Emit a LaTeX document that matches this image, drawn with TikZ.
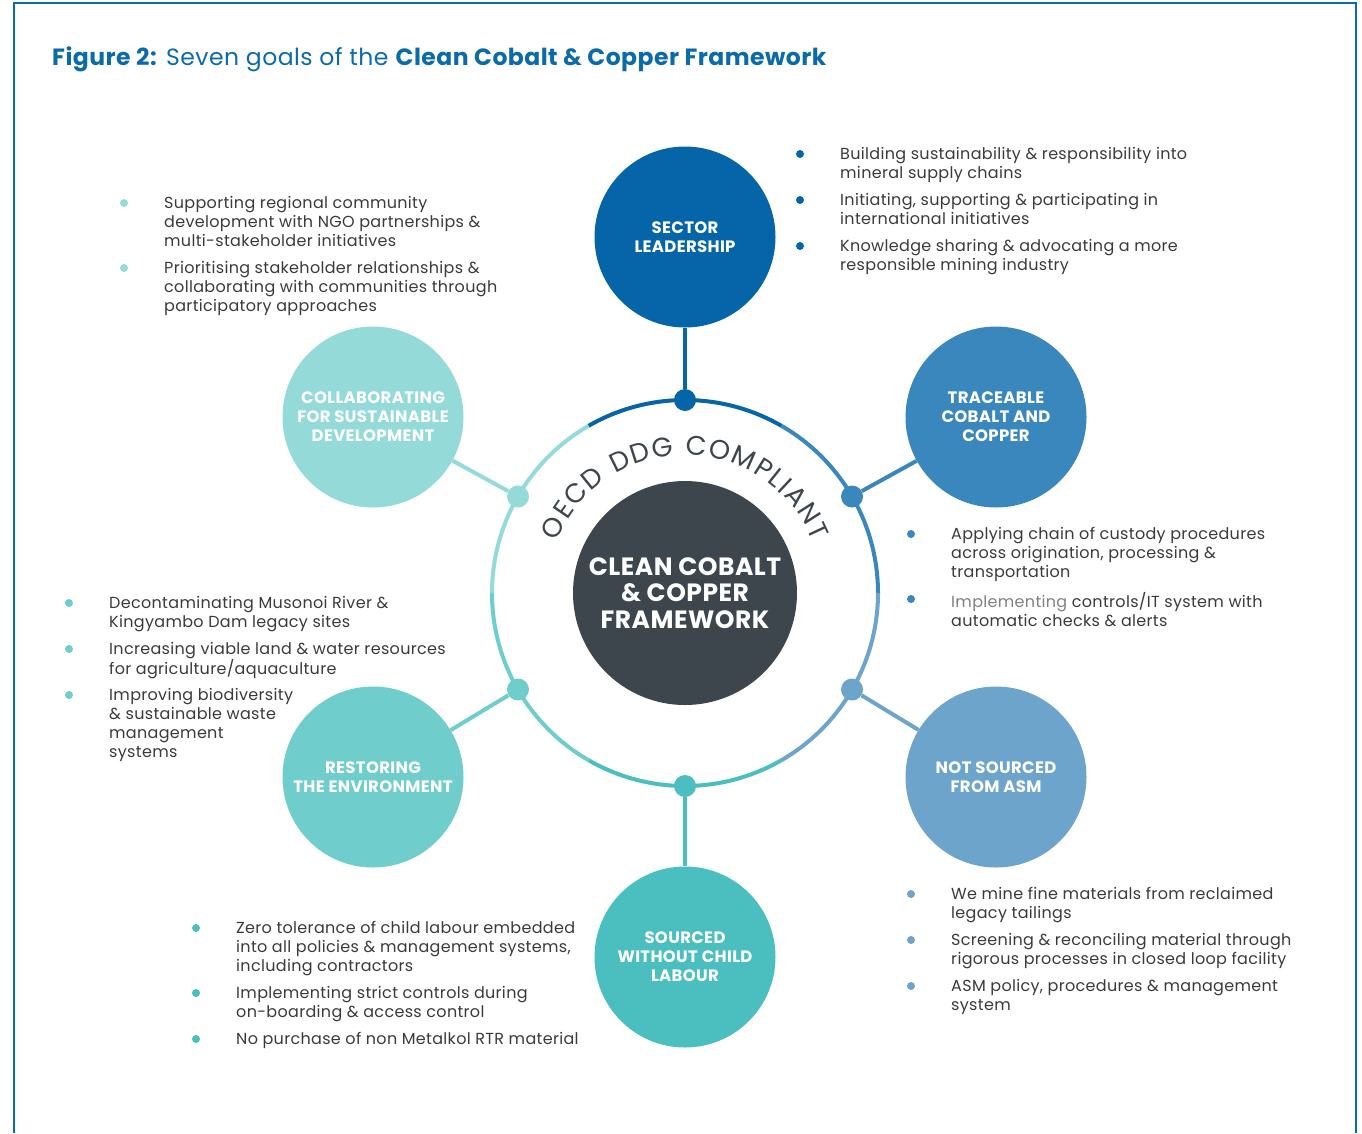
\documentclass[tikz,border=0pt]{standalone}
\usepackage{fontspec}
\setmainfont{Poppins}[LetterSpace=2]
\usetikzlibrary{decorations.text}
\definecolor{cSector}{HTML}{0565A8}
\definecolor{cTrace}{HTML}{3A87BD}
\definecolor{cAsm}{HTML}{6CA4CB}
\definecolor{cChild}{HTML}{4BBFBF}
\definecolor{cEnv}{HTML}{6FCDCB}
\definecolor{cCollab}{HTML}{93DAD8}
\definecolor{cCore}{HTML}{3D454D}
\definecolor{cTitle}{HTML}{0B6AA8}
\definecolor{cBody}{HTML}{3A3A3A}
\tikzstyle{goal} = [circle, minimum size=181pt, inner sep=0pt, text=white, font=\bfseries\fontsize{16.5}{19}\selectfont, align=center]
\tikzstyle{core} = [circle, minimum size=224pt, inner sep=0pt, fill=cCore, text=white, font=\bfseries\fontsize{25}{26.5}\selectfont, align=center]
\tikzstyle{joint} = [circle, minimum size=22pt, inner sep=0pt]
\tikzstyle{spoke} = [line width=4pt]
\tikzstyle{ring} = [line width=4pt]
\tikzstyle{bullet} = [circle, minimum size=8pt, inner sep=0pt]
\tikzstyle{item} = [anchor=north west, inner sep=0pt, align=left, text=cBody, font=\fontsize{16}{19}\selectfont]

\begin{document}
\begin{tikzpicture}[x=1pt, y=-1pt]
\useasboundingbox (0,0) rectangle (1362,1133);

% frame and title
\draw[cTitle, line width=2.5pt] (14,1133) -- (14,3) -- (1356,3) -- (1356,1133);
\node (title) [anchor=base west, inner sep=0pt, text=cTitle, font=\fontsize{23.5}{28}\selectfont] at (52,65)
  {\textbf{Figure 2:} Seven goals of the \textbf{Clean Cobalt \& Copper Framework}};

% ring
\coordinate (hub) at (685,593);
\draw[ring, cSector] (hub) ++(-120:193) arc (-120:-60:193);
\draw[ring, cTrace] (hub) ++(-60:193) arc (-60:0:193);
\draw[ring, cAsm] (hub) ++(0:193) arc (0:60:193);
\draw[ring, cChild] (hub) ++(60:193) arc (60:120:193);
\draw[ring, cEnv] (hub) ++(120:193) arc (120:180:193);
\draw[ring, cCollab] (hub) ++(180:193) arc (180:240:193);

% joints on the ring
\node (jSector) [joint, fill=cSector] at (685,400) {};
\node (jTrace) [joint, fill=cTrace] at (852,496.5) {};
\node (jAsm) [joint, fill=cAsm] at (852,689.5) {};
\node (jChild) [joint, fill=cChild] at (685,786) {};
\node (jEnv) [joint, fill=cEnv] at (518,689.5) {};
\node (jCollab) [joint, fill=cCollab] at (518,496.5) {};

% goals
\node (sector) [goal, fill=cSector] at (685,237) {SECTOR\\LEADERSHIP};
\node (trace) [goal, fill=cTrace] at (996,417) {TRACEABLE\\COBALT AND\\COPPER};
\node (asm) [goal, fill=cAsm] at (996,777) {NOT SOURCED\\FROM ASM};
\node (child) [goal, fill=cChild] at (685,957) {SOURCED\\WITHOUT CHILD\\LABOUR};
\node (env) [goal, fill=cEnv] at (373,777) {RESTORING\\THE ENVIRONMENT};
\node (collab) [goal, fill=cCollab] at (373,417) {COLLABORATING\\FOR SUSTAINABLE\\DEVELOPMENT};

\draw[spoke, cSector] (jSector) -- (sector);
\draw[spoke, cTrace] (jTrace) -- (trace);
\draw[spoke, cAsm] (jAsm) -- (asm);
\draw[spoke, cChild] (jChild) -- (child);
\draw[spoke, cEnv] (jEnv) -- (env);
\draw[spoke, cCollab] (jCollab) -- (collab);

% centre
\node (core) [core] at (hub) {CLEAN COBALT\\\& COPPER\\FRAMEWORK};
\path[decorate, decoration={text along path, text align={fit to path},
  text={|\fontsize{27}{27}\selectfont\color{cCore}|OECD DDG COMPLIANT}}]
  (hub) ++(-158:138) arc (-158:-22:138);

% sector leadership
\node (bS1) [bullet, fill=cSector] at (800,154) {};
\node (tS1) [item] at (840,147) {Building sustainability \& responsibility into\\mineral supply chains};
\node (bS2) [bullet, fill=cSector] at (800,200) {};
\node (tS2) [item] at (840,193) {Initiating, supporting \& participating in\\international initiatives};
\node (bS3) [bullet, fill=cSector] at (800,246) {};
\node (tS3) [item] at (840,239) {Knowledge sharing \& advocating a more\\responsible mining industry};

% collaborating
\node (bC1) [bullet, fill=cCollab] at (124,203) {};
\node (tC1) [item] at (164,196) {Supporting regional community\\development with NGO partnerships \&\\multi-stakeholder initiatives};
\node (bC2) [bullet, fill=cCollab] at (124,268) {};
\node (tC2) [item] at (164,261) {Prioritising stakeholder relationships \&\\collaborating with communities through\\participatory approaches};

% traceable
\node (bT1) [bullet, fill=cTrace] at (911,534) {};
\node (tT1) [item] at (951,527) {Applying chain of custody procedures\\across origination, processing \&\\transportation};
\node (bT2) [bullet, fill=cTrace] at (911,599) {};
\node (tT2) [item] at (951,592) {{\color{gray}Implementing} controls/IT system with\\automatic checks \& alerts};

% environment
\node (bE1) [bullet, fill=cEnv] at (69,603) {};
\node (tE1) [item] at (109,596) {Decontaminating Musonoi River \&\\Kingyambo Dam legacy sites};
\node (bE2) [bullet, fill=cEnv] at (69,649) {};
\node (tE2) [item] at (109,642) {Increasing viable land \& water resources\\for agriculture/aquaculture};
\node (bE3) [bullet, fill=cEnv] at (69,695) {};
\node (tE3) [item] at (109,688) {Improving biodiversity\\\& sustainable waste\\management\\systems};

% asm
\node (bA1) [bullet, fill=cAsm] at (911,894) {};
\node (tA1) [item] at (951,887) {We mine fine materials from reclaimed\\legacy tailings};
\node (bA2) [bullet, fill=cAsm] at (911,940) {};
\node (tA2) [item] at (951,933) {Screening \& reconciling material through\\rigorous processes in closed loop facility};
\node (bA3) [bullet, fill=cAsm] at (911,986) {};
\node (tA3) [item] at (951,979) {ASM policy, procedures \& management\\system};

% child labour
\node (bL1) [bullet, fill=cChild] at (196,928) {};
\node (tL1) [item] at (236,921) {Zero tolerance of child labour embedded\\into all policies \& management systems,\\including contractors};
\node (bL2) [bullet, fill=cChild] at (196,993) {};
\node (tL2) [item] at (236,986) {Implementing strict controls during\\on-boarding \& access control};
\node (bL3) [bullet, fill=cChild] at (196,1039) {};
\node (tL3) [item] at (236,1032) {No purchase of non Metalkol RTR material};

\end{tikzpicture}
\end{document}
